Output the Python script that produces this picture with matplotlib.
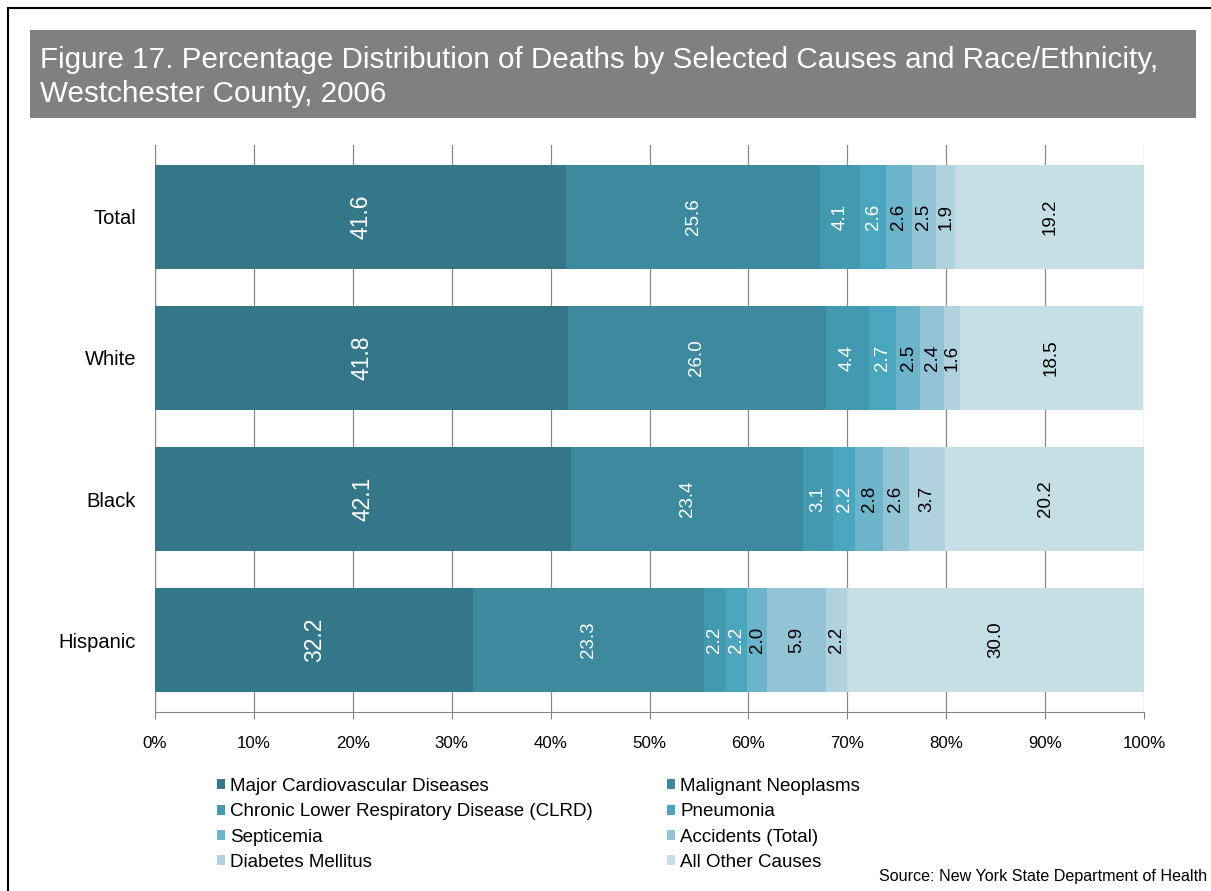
import matplotlib
matplotlib.use("Agg")
import matplotlib.pyplot as plt
from matplotlib.patches import Rectangle
import numpy as np

plt.rcParams['font.family'] = ['Liberation Sans', 'DejaVu Sans']

categories = ["Total", "White", "Black", "Hispanic"]
series_names = ["Major Cardiovascular Diseases", "Malignant Neoplasms",
                "Chronic Lower Respiratory Disease (CLRD)", "Pneumonia",
                "Septicemia", "Accidents (Total)", "Diabetes Mellitus",
                "All Other Causes"]
cardio = [41.6, 41.8, 42.1, 32.2]
neoplasms = [25.6, 26.0, 23.4, 23.3]
clrd = [4.1, 4.4, 3.1, 2.2]
pneumonia = [2.6, 2.7, 2.2, 2.2]
septicemia = [2.6, 2.5, 2.8, 2.0]
accidents = [2.5, 2.4, 2.6, 5.9]
diabetes = [1.9, 1.6, 3.7, 2.2]
other = [19.2, 18.5, 20.2, 30.0]
series = [cardio, neoplasms, clrd, pneumonia, septicemia, accidents, diabetes, other]
colors = ["#337788", "#3D8A9E", "#4399B0", "#4AA6BF", "#6BB4CA", "#93C4D5", "#AFD2DE", "#C6DFE6"]
text_colors = ["white", "white", "white", "white", "black", "black", "black", "black"]
xticks = [0, 10, 20, 30, 40, 50, 60, 70, 80, 90, 100]
xticklabels = ["0%", "10%", "20%", "30%", "40%", "50%", "60%", "70%", "80%", "90%", "100%"]

W, H = 1211, 891
fig = plt.figure(figsize=(W / 100, H / 100), dpi=100)
fig.patch.set_facecolor("white")

# outer frame
fig.patches.append(Rectangle((8 / W, -0.05), 1.2, 1 - 8 / H + 0.05, transform=fig.transFigure,
                             fill=False, edgecolor="black", linewidth=1.5))
# title band
fig.patches.append(Rectangle((30 / W, 1 - 118 / H), (1196 - 30) / W, 88 / H,
                             transform=fig.transFigure, facecolor="#808080", edgecolor="none"))
fig.text(40 / W, 1 - 60 / H, "Figure 17. Percentage Distribution of Deaths by Selected Causes and Race/Ethnicity,",
         color="white", fontsize=21.3, va="center", ha="left")
fig.text(40 / W, 1 - 94 / H, "Westchester County, 2006",
         color="white", fontsize=21.3, va="center", ha="left")

ax_left, ax_right = 155, 1144
ax_top, ax_bottom = 145, 712
ax = fig.add_axes([ax_left / W, 1 - ax_bottom / H, (ax_right - ax_left) / W, (ax_bottom - ax_top) / H])

y = np.arange(len(categories))
left = np.zeros(len(categories))
handles = []
for i, vals in enumerate(series):
    vals = np.array(vals)
    bc = ax.barh(y, vals, left=left, height=0.74, color=colors[i], edgecolor="none",
                 label=series_names[i], zorder=3)
    handles.append(bc)
    for j, v in enumerate(vals):
        ax.text(left[j] + v / 2, y[j], f"{v:.1f}", rotation=90, ha="center", va="center",
                color=text_colors[i], fontsize=16.5 if i == 0 else 13.5, zorder=4)
    left = left + vals

ax.set_xlim(0, 100)
ax.set_ylim(3.51, -0.51)
ax.set_yticks(y)
ax.set_yticklabels(categories, fontsize=14.5)
ax.set_xticks(xticks)
ax.set_xticklabels(xticklabels, fontsize=12.2)
ax.tick_params(axis="y", length=0, pad=13.7)
ax.tick_params(axis="x", length=5, color="#808080", pad=12.5)
ax.grid(axis="x", color="#888888", linewidth=0.9, zorder=0)
for s in ["top", "right"]:
    ax.spines[s].set_visible(False)
ax.spines["left"].set_color("#888888")
ax.spines["bottom"].set_color("#888888")

leg_kw = dict(loc="upper left", frameon=False, fontsize=13.5,
              handlelength=0.45, handleheight=0.45, handletextpad=0.25,
              labelspacing=0.44, borderpad=0, borderaxespad=0)
col1 = [0, 2, 4, 6]
col2 = [1, 3, 5, 7]
fig.legend([handles[k] for k in col1], [series_names[k] for k in col1],
           bbox_to_anchor=(217 / W, 1 - 778 / H), **leg_kw)
fig.legend([handles[k] for k in col2], [series_names[k] for k in col2],
           bbox_to_anchor=(667 / W, 1 - 778 / H), **leg_kw)

fig.text(1207 / W, 1 - 876 / H, "Source: New York State Department of Health",
         ha="right", va="center", fontsize=11.6)

fig.savefig("out.png", dpi=100)
